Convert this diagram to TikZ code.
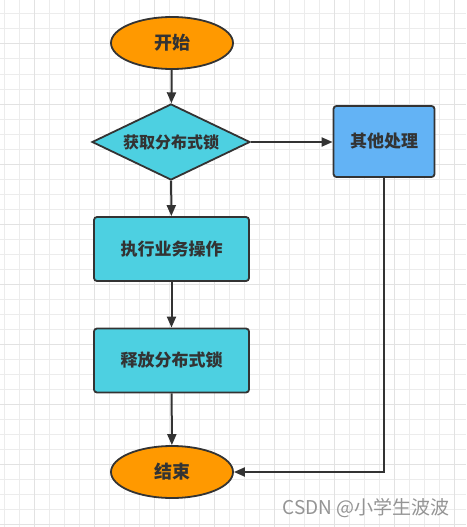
\documentclass[tikz,border=0pt]{standalone}
\usepackage{fontspec}
\setmainfont{Noto Sans CJK SC}
\usetikzlibrary{shapes.geometric,arrows.meta}
\definecolor{orangefill}{RGB}{255,153,0}
\definecolor{cyanfill}{RGB}{77,208,225}
\definecolor{bluefill}{RGB}{99,179,245}
\definecolor{strokec}{RGB}{51,51,51}
\definecolor{gridminor}{RGB}{236,236,236}
\definecolor{gridmajor}{RGB}{226,226,226}
\tikzset{
  base/.style={draw=strokec,line width=1.8pt,text=strokec,inner sep=0pt,font=\bfseries\fontsize{17}{20}\selectfont},
  terminal/.style={base,ellipse,fill=orangefill,minimum width=122pt,minimum height=52pt,font=\bfseries\fontsize{18}{21}\selectfont},
  decision/.style={base,diamond,fill=cyanfill,minimum width=158pt,minimum height=76pt,aspect=2.08,font=\bfseries\fontsize{16}{19}\selectfont},
  process/.style={base,rectangle,rounded corners=3pt,fill=cyanfill,minimum width=155pt,minimum height=64pt},
  other/.style={base,rectangle,rounded corners=3pt,fill=bluefill,minimum width=101pt,minimum height=71pt},
  conn/.style={draw=strokec,line width=2pt,-{Triangle[length=11pt,width=9pt]}},
  watermark/.style={text=black!42,font=\fontsize{19}{22}\selectfont,inner sep=0pt}
}
\begin{document}
\begin{tikzpicture}[x=1pt,y=-1pt]
\useasboundingbox (0,0) rectangle (466,527);
\fill[white] (0,0) rectangle (466,527);
\foreach \i in {0,...,31} {
  \pgfmathsetmacro{\gx}{4+15*\i}
  \draw[gridminor,line width=1pt] (\gx,0) -- (\gx,527);
}
\foreach \i in {0,...,35} {
  \pgfmathsetmacro{\gy}{14+15*\i}
  \draw[gridminor,line width=1pt] (0,\gy) -- (466,\gy);
}
\foreach \i in {0,...,7} {
  \pgfmathsetmacro{\gx}{34+60*\i}
  \draw[gridmajor,line width=1pt] (\gx,0) -- (\gx,527);
}
\foreach \i in {0,...,8} {
  \pgfmathsetmacro{\gy}{44+60*\i}
  \draw[gridmajor,line width=1pt] (0,\gy) -- (466,\gy);
}
\node[terminal] (start) at (172,43) {开始};
\node[decision] (lock) at (171,142) {获取分布式锁};
\node[other] (other) at (384,141.5) {其他处理};
\node[process] (work) at (171.5,249) {执行业务操作};
\node[process] (release) at (171.5,360.5) {释放分布式锁};
\node[terminal] (end) at (172,472) {结束};
\draw[conn] (start) -- (lock);
\draw[conn] (lock.east) -- (lock.east -| other.west);
\draw[conn] (lock) -- (work);
\draw[conn] (work) -- (release);
\draw[conn] (release) -- (end);
\draw[conn] (other.south) |- (end.east);
\node[watermark,anchor=east] (wm) at (450,508) {CSDN @小学生波波};
\end{tikzpicture}
\end{document}
